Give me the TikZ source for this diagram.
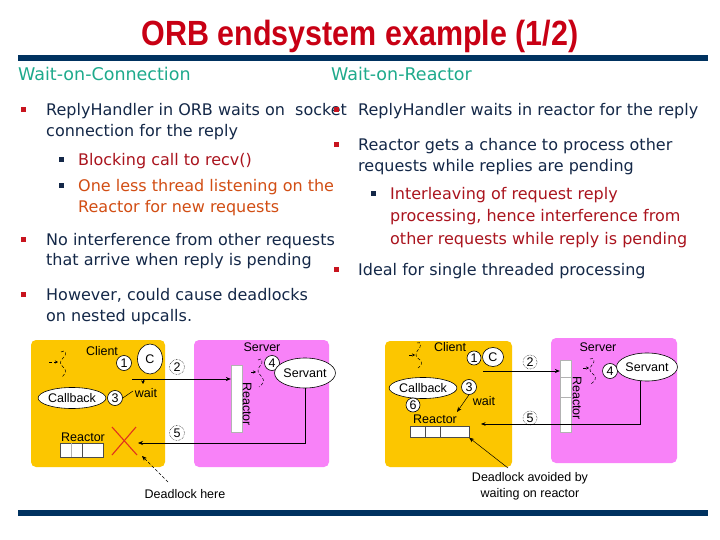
\documentclass[tikz,border=0pt]{standalone}
\usepackage{fontspec}
\setmainfont{DejaVu Sans}
\newfontfamily\arialf{Liberation Sans}
\usetikzlibrary{arrows.meta,shapes.geometric}
\definecolor{titlered}{RGB}{200,0,20}
\definecolor{rulenavy}{RGB}{0,50,96}
\definecolor{teal}{RGB}{30,170,140}
\definecolor{bodyc}{RGB}{20,40,72}
\definecolor{bulred}{RGB}{200,20,30}
\definecolor{subred}{RGB}{170,20,30}
\definecolor{suborange}{RGB}{210,78,20}
\definecolor{gold}{RGB}{252,198,0}
\definecolor{magent}{RGB}{248,130,248}
\definecolor{xred}{RGB}{225,50,30}
\tikzset{
  body/.style={font=\fontsize{16}{19}\selectfont, text=bodyc, anchor=base west, inner sep=0pt},
  rbul/.style={fill=bulred, minimum size=5pt, inner sep=0pt},
  nbul/.style={fill=bodyc, minimum size=5pt, inner sep=0pt},
  dtext/.style={font=\arialf\fontsize{12.5}{14}\selectfont, inner sep=0pt},
  numc/.style={circle, draw, fill=white, line width=0.6pt, minimum size=15pt, inner sep=0pt, font=\arialf\fontsize{12.5}{14}\selectfont},
  numd/.style={circle, draw, densely dotted, line width=0.5pt, minimum size=15pt, inner sep=0pt, font=\arialf\fontsize{12.5}{14}\selectfont},
  ell/.style={ellipse, draw, fill=white, line width=0.6pt, inner sep=0pt, font=\arialf\fontsize{12.5}{14}\selectfont},
  cbox/.style={fill=gold, rounded corners=5pt, inner sep=0pt},
  sbox/.style={fill=magent, rounded corners=5pt, inner sep=0pt},
  bar/.style={fill=white, draw=gray!60, line width=0.3pt, inner sep=0pt},
  arr/.style={-{Stealth[length=5pt,width=4pt]}, line width=0.6pt},
  thr/.style={densely dashed, line width=0.5pt},
}
\begin{document}
\begin{tikzpicture}[x=1pt,y=-1pt]
\useasboundingbox (0,0) rectangle (720,540);
\fill[white] (0,0) rectangle (720,540);
% title and rules
\node[font=\arialf\bfseries\fontsize{35}{40}\selectfont, text=titlered, inner sep=0pt, anchor=base, xscale=0.87] (title) at (360,46) {ORB endsystem example (1/2)};
\fill[rulenavy] (18,55) rectangle (708,61);
\fill[rulenavy] (18,510) rectangle (708,516);
\node[font=\fontsize{17.5}{20}\selectfont, text=teal, anchor=base west, inner sep=0pt] (h1) at (18,81) {Wait-on-Connection};
\node[font=\fontsize{17.5}{20}\selectfont, text=teal, anchor=base west, inner sep=0pt] (h2) at (331,81) {Wait-on-Reactor};
% left column
\node[rbul] (b1) at (23,110) {};
\node[body] (t1a) at (46,116) {ReplyHandler in ORB waits on \ socket};
\node[body] (t1b) at (46,137) {connection for the reply};
\node[nbul] (s1) at (61,160) {};
\node[body, text=subred] (s1a) at (78,166) {Blocking call to recv()};
\node[nbul] (s2) at (61,186) {};
\node[body, text=suborange] (s2a) at (78,192) {One less thread listening on the};
\node[body, text=suborange] (s2b) at (78,213) {Reactor for new requests};
\node[rbul] (b2) at (23,239) {};
\node[body] (t2a) at (46,245) {No interference from other requests};
\node[body] (t2b) at (46,265) {that arrive when reply is pending};
\node[rbul] (b3) at (23,294) {};
\node[body] (t3a) at (46,300) {However, could cause deadlocks};
\node[body] (t3b) at (46,321) {on nested upcalls.};
% right column
\node[rbul] (rb1) at (336,110) {};
\node[body] (r1a) at (358,116) {ReplyHandler waits in reactor for the reply};
\node[rbul] (rb2) at (336,145) {};
\node[body] (r2a) at (358,151) {Reactor gets a chance to process other};
\node[body] (r2b) at (358,172) {requests while replies are pending};
\node[nbul] (rs1) at (373,194) {};
\node[body, text=subred] (rs1a) at (390,200) {Interleaving of request reply};
\node[body, text=subred] (rs1b) at (390,222) {processing, hence interference from};
\node[body, text=subred] (rs1c) at (390,244) {other requests while reply is pending};
\node[rbul] (rb3) at (336,269) {};
\node[body] (r3a) at (358,275) {Ideal for single threaded processing};

% ===== left diagram =====
\node[cbox, minimum width=134pt, minimum height=127pt] (lcl) at (98,403.5) {};
\node[sbox, minimum width=135pt, minimum height=127pt] (lsv) at (261.5,403.5) {};
\node[dtext] (lclient) at (102,351) {Client};
\node[numc] (l1) at (124,363) {1};
\node[ell, minimum width=25pt, minimum height=30pt] (lC) at (150,359) {C};
\node[numd] (l2) at (177,367) {2};
% thread
\coordinate (lta) at (49,362);
\coordinate (ltb) at (58,362);
\draw[thr, -{Stealth[length=3pt,width=3pt]}] (lta) -- (ltb);
\draw[thr] (61,352) .. controls (65,349) and (68,354) .. (63,358) .. controls (59,362) and (60,364) .. (64,368) .. controls (67,371) and (65,374) .. (62,377);
% arrow client -> server reactor
\node[bar, minimum width=11pt, minimum height=67pt] (lrb) at (236.5,398.5) {};
\node[dtext, rotate=-90] (lrt) at (247,404) {Reactor};
\coordinate (lst) at (132,379);
\draw[arr] (lst) -- (lst -| lrb.west);
% wait
\node[ell, minimum width=64pt, minimum height=21pt] (lcb) at (72,398) {Callback};
\node[numc] (l3) at (115,398) {3};
\node[dtext] (lwait) at (146,393) {wait};
\coordinate (lw1) at (133,391);
\draw[line width=0.5pt] (l3.east) -- (lw1);
\coordinate (lwt) at (143,379.5);
\draw[-{Stealth[length=3.5pt,width=3.5pt]}, line width=0.5pt] (lwt) -- ++(0,4.5);
% reactor queue
\node[dtext] (lrq) at (83,437) {Reactor};
\node[bar, draw=black!70, minimum width=43pt, minimum height=14pt] (lq) at (81.5,450) {};
\draw[gray!60, line width=0.4pt] (71,443) -- (71,457);
\draw[black!70, line width=0.5pt] (82,443) -- (82,457);
% red X
\draw[xred, line width=1.1pt] (112,427) -- (137,455);
\draw[xred, line width=1.1pt] (136,427) -- (112,455);
% server side
\node[dtext] (lserver) at (262,347) {Server};
\node[numc] (l4) at (272,363) {4};
\node[ell, minimum width=46pt, minimum height=30pt] (lsvt) at (305,373) {Servant};
\draw[thr, -{Stealth[length=3pt,width=3pt]}] (251,372) -- (256,372);
\draw[thr] (258,360) .. controls (262,357) and (264,362) .. (260,366) .. controls (256,370) and (258,373) .. (262,377) .. controls (265,381) and (263,384) .. (259,387);
\coordinate (lend) at (138,443);
\draw[arr] (lsvt.south) |- (lend);
\node[numd] (l5) at (177,433) {5};
% deadlock label
\node[dtext] (ldl) at (185,494) {Deadlock here};
\coordinate (ldtip) at (142,456);
\draw[arr, densely dashed, line width=0.5pt] (168,482) -- (ldtip);

% ===== right diagram =====
\node[cbox, minimum width=127pt, minimum height=126pt] (rcl) at (448.5,404) {};
\node[sbox, minimum width=126pt, minimum height=125pt] (rsv) at (614,400.5) {};
\node[dtext] (rclient) at (450,347) {Client};
\node[numc, minimum size=14pt] (r1) at (474,358) {1};
\node[ell, minimum width=21pt, minimum height=19pt] (rC) at (493,357) {C};
\node[numd, minimum size=14pt] (r2) at (530,362) {2};
\draw[thr, -{Stealth[length=3pt,width=3pt]}] (409,355) -- (415,355);
\draw[thr] (417,343) .. controls (421,341) and (422,346) .. (418,350) .. controls (414,354) and (416,357) .. (420,360) .. controls (423,363) and (421,366) .. (418,368);
\node[bar, minimum width=11pt, minimum height=72pt] (rrb) at (565.5,396) {};
\draw[gray!60, line width=0.4pt] (560,377) -- (571,377);
\draw[gray!60, line width=0.4pt] (560,397) -- (571,397);
\node[dtext, rotate=-90] (rrt) at (577,398) {Reactor};
\coordinate (rst) at (483,371);
\draw[arr] (rst) -- (rst -| rrb.west);
\node[ell, minimum width=62pt, minimum height=21pt] (rcb) at (423,388) {Callback};
\node[numc, minimum size=15pt] (r3) at (469,387) {3};
\node[dtext] (rwait) at (484,401) {wait};
\node[numc, minimum size=14pt] (r6) at (413,405) {6};
\node[dtext] (rrq) at (435,419) {Reactor};
\node[bar, draw=black!70, minimum width=59pt, minimum height=11pt] (rq) at (439.5,432) {};
\draw[black!70, line width=0.5pt] (425,426.5) -- (425,437.5);
\draw[black!70, line width=0.5pt] (440,426.5) -- (440,437.5);
\coordinate (rwt) at (457,412);
\draw[arr, line width=0.5pt] (r3.south) -- (rwt);
\node[dtext] (rserver) at (598,347) {Server};
\node[numc, minimum size=15pt] (r4) at (610,371) {4};
\node[ell, minimum width=52pt, minimum height=28pt] (rsvt) at (647,367) {Servant};
\draw[thr, -{Stealth[length=3pt,width=3pt]}] (583,368) -- (589,368);
\draw[thr] (590,359) .. controls (594,357) and (596,361) .. (592,365) .. controls (588,369) and (590,372) .. (594,375) .. controls (597,378) and (595,381) .. (591,384);
\coordinate (rend) at (481,424);
\draw[line width=0.5pt, -{Stealth[length=4.5pt,width=3.5pt]}] (640,381) |- (rend);
\node[numd, minimum size=14pt] (r5) at (530,418) {5};
\node[dtext] (rdl1) at (530,478) {Deadlock avoided by};
\node[dtext] (rdl2) at (530,494) {waiting on reactor};
\draw[arr, line width=0.5pt] (508,468) -- (rq.south east);
\end{tikzpicture}
\end{document}
